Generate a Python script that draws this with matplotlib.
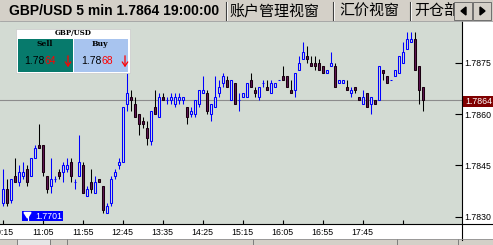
import matplotlib
matplotlib.use('Agg')
import matplotlib.pyplot as plt
import numpy as np
from matplotlib.patches import Rectangle, Polygon, FancyArrowPatch
from matplotlib.lines import Line2D

plt.rcParams['font.family'] = ['Liberation Sans', 'DejaVu Sans']

# 5 min GBP/USD candles, 10:15 .. 19:00
opens = [1.7834, 1.7838, 1.7835, 1.7842, 1.7840, 1.7842, 1.7844, 1.7842, 1.7847, 1.7851,
         1.7851, 1.7842, 1.7839, 1.7841, 1.7843, 1.7843, 1.7844, 1.7846, 1.7840, 1.7842,
         1.7845, 1.7836, 1.7840, 1.7837, 1.7841, 1.7839, 1.7831, 1.7834, 1.7842, 1.7845,
         1.7846, 1.7863, 1.7865, 1.7863, 1.7860, 1.7858, 1.7856, 1.7852, 1.7862, 1.7859,
         1.7865, 1.7864, 1.7864, 1.7863, 1.7864, 1.7864, 1.7862, 1.7860, 1.7860, 1.7863,
         1.7866, 1.7866, 1.7860, 1.7862, 1.7866, 1.7869, 1.7870, 1.7864, 1.7869, 1.7864,
         1.7865, 1.7865, 1.7870, 1.7867, 1.7865, 1.7869, 1.7868, 1.7866, 1.7868, 1.7870,
         1.7871, 1.7871, 1.7867, 1.7867, 1.7873, 1.7876, 1.7877, 1.7875, 1.7875, 1.7875,
         1.7874, 1.7872, 1.7874, 1.7874, 1.7869, 1.7869, 1.7868, 1.7866, 1.7868, 1.7865,
         1.7863, 1.7866, 1.7863, 1.7864, 1.7864, 1.7873, 1.7871, 1.7870, 1.7871, 1.7872,
         1.7875, 1.7879, 1.7881, 1.7882, 1.7874, 1.7868]
highs = [1.7844, 1.7841, 1.7841, 1.7847, 1.7845, 1.7846, 1.7845, 1.7847, 1.7851, 1.7857,
         1.7851, 1.7842, 1.7847, 1.7842, 1.7844, 1.7846, 1.7847, 1.7847, 1.7841, 1.7854,
         1.7846, 1.7839, 1.7844, 1.7842, 1.7841, 1.7839, 1.7834, 1.7842, 1.7844, 1.7847,
         1.7862, 1.7872, 1.7867, 1.7865, 1.7860, 1.7859, 1.7858, 1.7861, 1.7867, 1.7866,
         1.7866, 1.7865, 1.7866, 1.7866, 1.7866, 1.7865, 1.7862, 1.7862, 1.7864, 1.7867,
         1.7871, 1.7867, 1.7863, 1.7871, 1.7870, 1.7872, 1.7871, 1.7870, 1.7869, 1.7866,
         1.7866, 1.7869, 1.7872, 1.7868, 1.7868, 1.7870, 1.7870, 1.7870, 1.7869, 1.7870,
         1.7874, 1.7871, 1.7870, 1.7872, 1.7877, 1.7881, 1.7880, 1.7877, 1.7877, 1.7876,
         1.7874, 1.7873, 1.7878, 1.7875, 1.7870, 1.7870, 1.7870, 1.7868, 1.7868, 1.7865,
         1.7867, 1.7866, 1.7865, 1.7864, 1.7874, 1.7873, 1.7871, 1.7870, 1.7873, 1.7877,
         1.7881, 1.7884, 1.7884, 1.7884, 1.7874, 1.7868]
lows = [1.7833, 1.7833, 1.7834, 1.7840, 1.7839, 1.7841, 1.7839, 1.7842, 1.7847, 1.7850,
        1.7842, 1.7837, 1.7837, 1.7840, 1.7841, 1.7840, 1.7843, 1.7840, 1.7838, 1.7842,
        1.7837, 1.7836, 1.7837, 1.7837, 1.7840, 1.7831, 1.7831, 1.7833, 1.7841, 1.7844,
        1.7846, 1.7861, 1.7861, 1.7859, 1.7854, 1.7856, 1.7851, 1.7851, 1.7860, 1.7859,
        1.7864, 1.7863, 1.7863, 1.7862, 1.7863, 1.7863, 1.7857, 1.7859, 1.7859, 1.7862,
        1.7866, 1.7860, 1.7858, 1.7862, 1.7865, 1.7868, 1.7868, 1.7864, 1.7863, 1.7861,
        1.7865, 1.7865, 1.7868, 1.7865, 1.7864, 1.7868, 1.7867, 1.7866, 1.7868, 1.7870,
        1.7870, 1.7868, 1.7866, 1.7865, 1.7873, 1.7876, 1.7875, 1.7874, 1.7873, 1.7873,
        1.7872, 1.7872, 1.7874, 1.7868, 1.7869, 1.7869, 1.7867, 1.7865, 1.7866, 1.7864,
        1.7863, 1.7862, 1.7860, 1.7863, 1.7864, 1.7870, 1.7869, 1.7870, 1.7871, 1.7872,
        1.7875, 1.7879, 1.7881, 1.7873, 1.7863, 1.7861]
closes = [1.7838, 1.7834, 1.7841, 1.7840, 1.7843, 1.7843, 1.7840, 1.7847, 1.7850, 1.7850,
          1.7843, 1.7838, 1.7841, 1.7841, 1.7842, 1.7845, 1.7845, 1.7842, 1.7840, 1.7846,
          1.7837, 1.7838, 1.7838, 1.7840, 1.7840, 1.7832, 1.7833, 1.7841, 1.7843, 1.7846,
          1.7862, 1.7866, 1.7864, 1.7859, 1.7857, 1.7857, 1.7853, 1.7861, 1.7860, 1.7865,
          1.7864, 1.7864, 1.7865, 1.7865, 1.7865, 1.7865, 1.7859, 1.7861, 1.7864, 1.7867,
          1.7867, 1.7861, 1.7863, 1.7865, 1.7868, 1.7871, 1.7868, 1.7870, 1.7863, 1.7864,
          1.7866, 1.7869, 1.7868, 1.7866, 1.7868, 1.7869, 1.7867, 1.7869, 1.7869, 1.7870,
          1.7870, 1.7868, 1.7866, 1.7872, 1.7875, 1.7878, 1.7876, 1.7874, 1.7874, 1.7873,
          1.7872, 1.7873, 1.7875, 1.7868, 1.7870, 1.7870, 1.7867, 1.7867, 1.7867, 1.7864,
          1.7865, 1.7862, 1.7865, 1.7863, 1.7874, 1.7872, 1.7869, 1.7870, 1.7873, 1.7877,
          1.7878, 1.7882, 1.7882, 1.7873, 1.7867, 1.7864]

time_ticks = [0, 10, 20, 30, 40, 50, 60, 70, 80, 90, 100]
time_labels = ['10:15', '11:05', '11:55', '12:45', '13:35', '14:25', '15:15',
               '16:05', '16:55', '17:45', '']
price_ticks = [1.7830, 1.7845, 1.7860, 1.7875]
sell_price = '1.7864'
buy_price = '1.7868'
low_mark = '1.7701'

W, H = 493, 245
fig = plt.figure(figsize=(W / 100, H / 100), dpi=100)
fig.patch.set_facecolor('white')


def fx(x):
    return x / W


def fy(y):
    return 1 - y / H


def box(x0, y0, x1, y1, fc, ec='none', lw=0, z=5):
    fig.add_artist(Rectangle((fx(x0), fy(y1)), (x1 - x0) / W, (y1 - y0) / H,
                             transform=fig.transFigure, facecolor=fc,
                             edgecolor=ec, linewidth=lw, zorder=z))


def line(xs, ys, color, lw=0.75, z=6):
    fig.add_artist(Line2D([fx(v) for v in xs], [fy(v) for v in ys],
                          transform=fig.transFigure, color=color,
                          linewidth=lw, zorder=z))


def text(x, y, s, z=7, **kw):
    fig.text(fx(x), fy(y), s, zorder=z, **kw)


bg = '#d3dbd3'
ax = fig.add_axes([0, fy(224), 462 / W, (224 - 21) / H])
ax.set_facecolor(bg)
for s in ax.spines.values():
    s.set_visible(False)

x = np.arange(len(opens))
o = np.array(opens)
c = np.array(closes)
bull = c >= o
wick_col = ['#0000ff' if b else 'black' for b in bull]
face_col = [bg if b else '#5e1452' for b in bull]
edge_col = ['#0000ff' if b else '#1a0010' for b in bull]

ax.axhline(closes[-1], color='#8c8c8c', lw=0.8, zorder=1)
ax.vlines(x, lows, highs, colors=wick_col, lw=0.75, zorder=2)
ax.bar(x, np.abs(c - o), bottom=np.minimum(o, c), width=0.5,
       color=face_col, edgecolor=edge_col, linewidth=0.75, zorder=3)

ax.set_xlim(-0.675, 114.825)
ax.set_ylim(1.7860 - 110 / 34200, 1.7860 + 93 / 34200)
ax.yaxis.tick_right()
ax.set_yticks(price_ticks)
ax.set_yticklabels(['%.4f' % p for p in price_ticks])
ax.set_xticks(time_ticks)
ax.set_xticklabels(time_labels)
ax.tick_params(axis='y', direction='in', length=5, width=0.8, pad=2, labelsize=6.3)
ax.tick_params(axis='x', direction='in', length=3, width=0.8, pad=3, labelsize=6.3)

# axis lines
line([0, 493], [224, 224], 'black', lw=0.8)
line([462, 462], [21, 240], 'black', lw=0.8)

# current price tag
box(463, 96, 493, 107.5, '#800000')
text(465, 101.8, sell_price, color='white', fontsize=6.3, va='center', ha='left', z=8)

# low marker
box(21.7, 210.7, 62.7, 221, '#0000ff')
fig.add_artist(Polygon([(fx(24), fy(212.5)), (fx(31), fy(212.5)), (fx(27.5), fy(218))],
                       closed=True, transform=fig.transFigure, color='white', zorder=7))
line([27.5, 27.5], [215, 220], 'white', lw=0.8, z=7)
text(35, 216, low_mark, color='white', fontsize=6.3, va='center', ha='left')

# tab bar
box(0, 0, 493, 21, '#d4d0c8')
line([0, 493], [21, 21], '#a0a0a0', lw=0.6)
text(9, 11, 'GBP/USD 5 min 1.7864 19:00:00', fontsize=10, fontweight='bold',
     va='center', ha='left')
cjk = ['Noto Sans CJK SC', 'DejaVu Sans']
text(229, 11, '账户管理视窗', fontsize=10.8, family=cjk, va='center', ha='left')
text(339, 11, '汇价视窗', fontsize=10.8, family=cjk, va='center', ha='left')
text(414, 11, '开仓部', fontsize=10.8, family=cjk, va='center', ha='left')
for sx in [226, 333, 410]:
    line([sx, sx], [2, 20], '#404040', lw=0.8)
    line([sx + 1, sx + 1], [2, 20], 'white', lw=0.6)
for bx0, pts in [(454, [(461, 11), (466, 7), (466, 15)]),
                 (473, [(485, 11), (480, 7), (480, 15)])]:
    box(bx0, 2, bx0 + 18, 20, '#d4d0c8', ec='#606060', lw=0.6, z=8)
    fig.add_artist(Polygon([(fx(px), fy(py)) for px, py in pts], closed=True,
                           transform=fig.transFigure, color='black', zorder=9))

# bottom scroll bar
box(0, 239, 493, 245, '#d4d0c8')
box(17, 239, 50, 245, '#e6e6e6')
for sx in [17, 50, 67, 253, 397, 458]:
    line([sx, sx], [239, 245], '#707070', lw=0.6)
line([0, 493], [239, 239], '#909090', lw=0.6)

# sell / buy widget
box(16, 29, 130, 73, 'white', ec='#c8c8c8', lw=0.5)
text(73, 33.5, 'GBP/USD', fontsize=5, family='DejaVu Serif', fontweight='bold',
     va='center', ha='center')
box(18, 39, 72.7, 71.7, '#077a6c', z=6)
box(74.3, 39, 128.3, 71.7, '#a8c4ef', z=6)
text(45, 44.5, 'Sell', fontsize=5.5, family='DejaVu Serif', fontweight='bold',
     va='center', ha='center')
text(100, 44.5, 'Buy', fontsize=5.5, family='DejaVu Serif', fontweight='bold',
     va='center', ha='center')
for px, price in [(44.4, sell_price), (101.8, buy_price)]:
    text(px, 61, price[:4], fontsize=7.5, color='black', va='center', ha='right')
    text(px, 61, price[4:], fontsize=7.5, color='red', va='center', ha='left')
for axx in [68, 125]:
    fig.add_artist(FancyArrowPatch((fx(axx), fy(53)), (fx(axx), fy(70)),
                                   arrowstyle='->,head_length=3,head_width=2',
                                   color='red', lw=0.9, transform=fig.transFigure,
                                   zorder=8))

fig.savefig('out.png', dpi=100, facecolor=fig.get_facecolor())
